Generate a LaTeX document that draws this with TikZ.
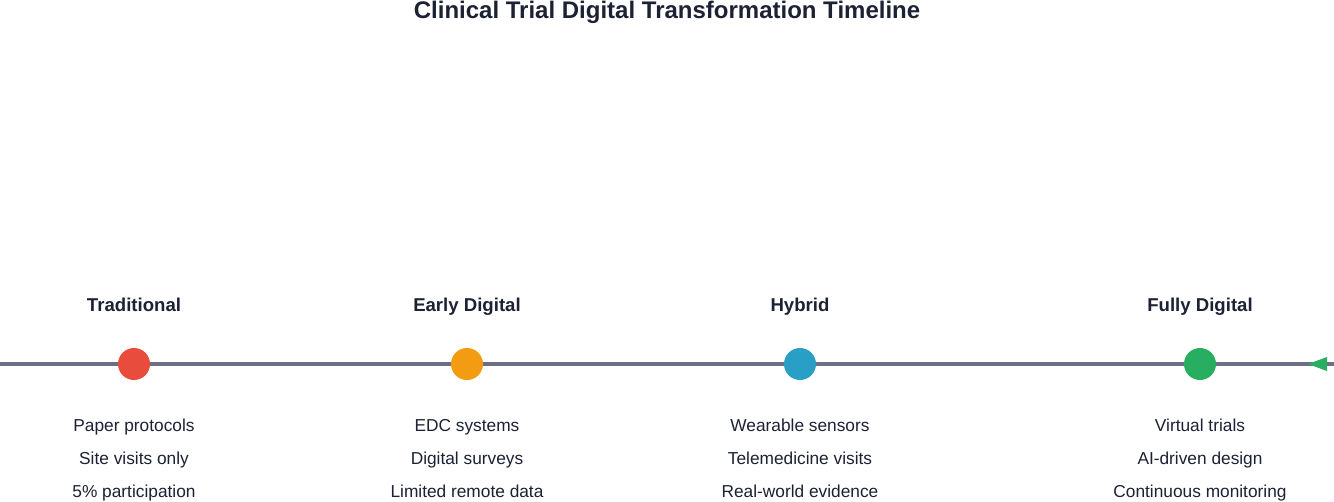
\documentclass[tikz,border=0pt]{standalone}
\usepackage{fontspec}
\setmainfont{Liberation Sans}
\usetikzlibrary{positioning}
\definecolor{inkcol}{HTML}{1C2133}
\definecolor{axiscol}{HTML}{6B6F88}
\definecolor{tradcol}{HTML}{E74C3C}
\definecolor{earlycol}{HTML}{F39C12}
\definecolor{hybcol}{HTML}{2A9FC5}
\definecolor{fullcol}{HTML}{27AE60}
\tikzset{
    titlesty/.style={anchor=base,text=inkcol,font=\fontsize{24}{28}\selectfont\bfseries},
    phasesty/.style={anchor=base,text=inkcol,font=\fontsize{18.6}{22}\selectfont\bfseries},
    itemsty/.style={anchor=base,text=inkcol,font=\fontsize{17.3}{20}\selectfont},
    dotsty/.style={circle,minimum size=32pt,inner sep=0pt},
    axissty/.style={draw=axiscol,line width=4pt},
}
\begin{document}
\begin{tikzpicture}[x=1pt,y=-1pt]
\useasboundingbox (0,0) rectangle (1334,501);
\node[titlesty] (title) at (667,18.5) {Clinical Trial Digital Transformation Timeline};

% axis
\coordinate (axisL) at (0,364);
\coordinate (axisR) at (1334,364);
\draw[axissty] (axisL) -- (axisR);
\coordinate (tipA) at (1308,364);
\coordinate (tipB) at (1327,357);
\coordinate (tipC) at (1327,371);
\fill[fullcol] (tipA) -- (tipB) -- (tipC) -- cycle;

% phases
\foreach \x/\nm/\col/\lbl/\ia/\ib/\ic in {
  134/trad/tradcol/Traditional/Paper protocols/Site visits only/5\% participation,
  467/early/earlycol/Early Digital/EDC systems/Digital surveys/Limited remote data,
  800/hyb/hybcol/Hybrid/Wearable sensors/Telemedicine visits/Real-world evidence,
  1200/full/fullcol/Fully Digital/Virtual trials/AI-driven design/Continuous monitoring}
{
  \node[phasesty] (\nm-lbl) at (\x,311) {\lbl};
  \node[dotsty,fill=\col] (\nm-dot) at (\x,364) {};
  \node[itemsty] (\nm-a) at (\x,431.2) {\ia};
  \node[itemsty] (\nm-b) at (\x,464.2) {\ib};
  \node[itemsty] (\nm-c) at (\x,497.2) {\ic};
}
\end{tikzpicture}
\end{document}
